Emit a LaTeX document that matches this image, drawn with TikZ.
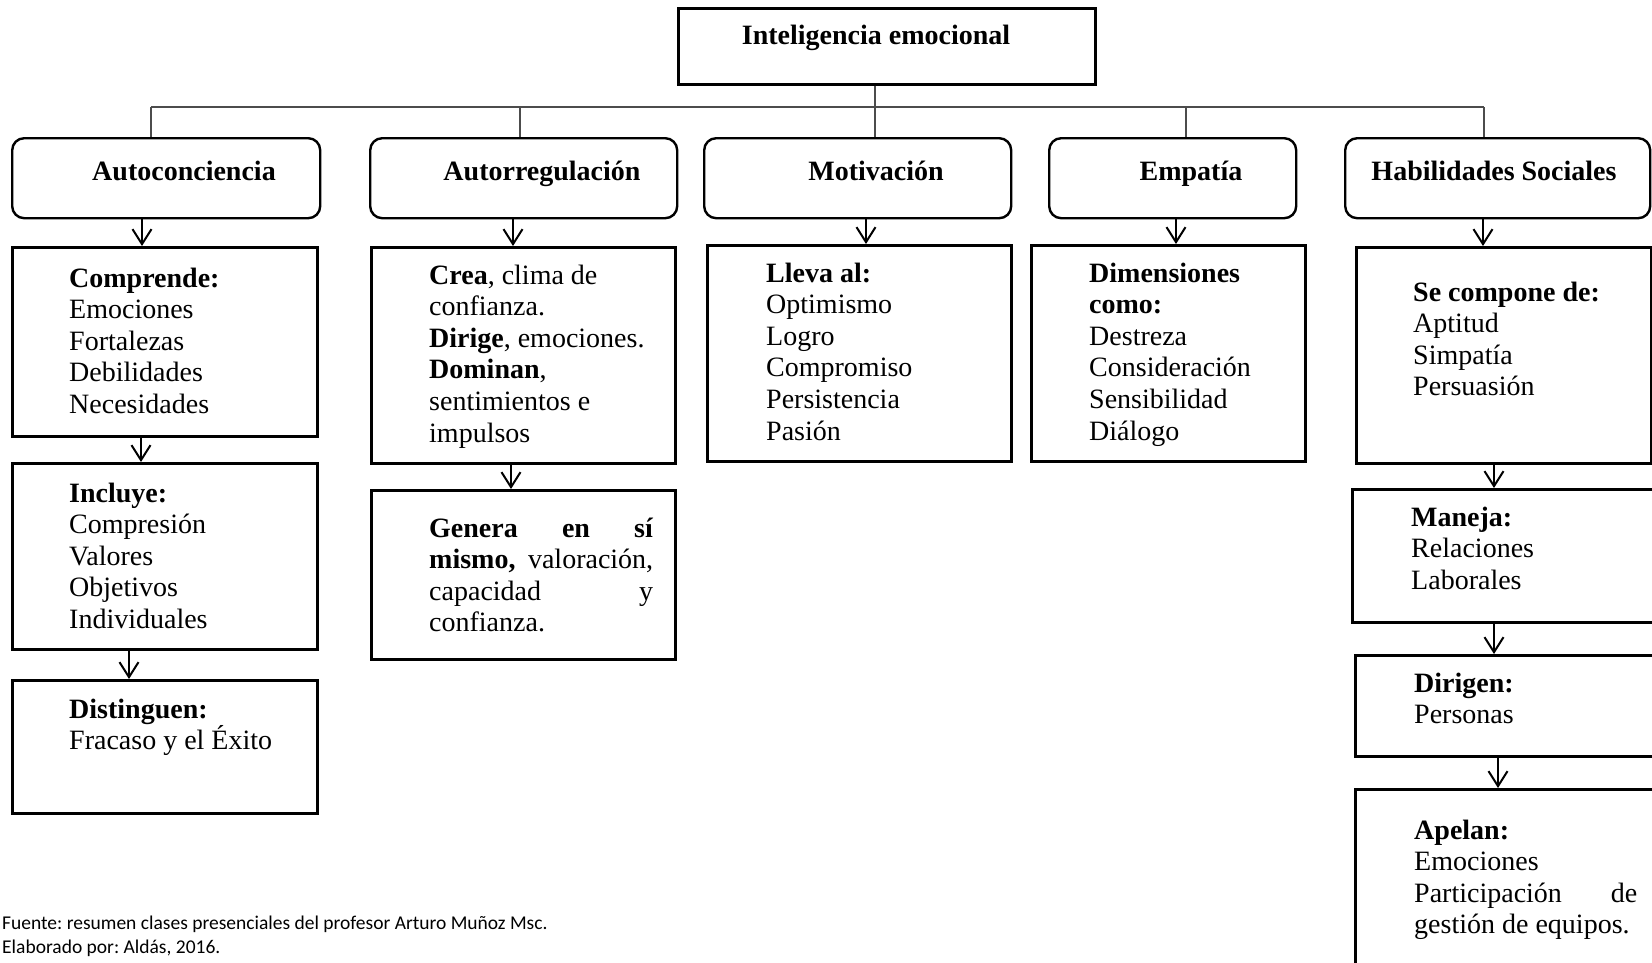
\documentclass[tikz,border=0pt]{standalone}
\usepackage{fontspec}
\setmainfont{Liberation Serif}
\newfontfamily\notefont{Carlito}
\usetikzlibrary{arrows.meta}
\frenchspacing
% restore the font's own interword glue inside fixed-width nodes
\newcommand\sprst{\spaceskip=0pt\xspaceskip=0pt\relax}
\begin{document}
\begin{tikzpicture}[x=1pt,y=-1pt,
  rbox/.style={draw, line width=2.4pt, rounded corners=12pt, inner sep=0pt, anchor=north west},
  sbox/.style={draw, line width=2.8pt, inner sep=0pt, anchor=north west},
  title/.style={font=\fontsize{28}{31.6}\selectfont\bfseries, inner sep=0pt, anchor=base},
  body/.style={font=\fontsize{28}{31.6}\selectfont, inner sep=0pt, anchor=base west},
  bus/.style={draw=black!70, line width=1.4pt},
  arr/.style={line width=2pt, -{Straight Barb[length=15pt,width=19pt,line width=2pt]}},
]
\fill[white] (0,0) rectangle (1652,962);
\clip (0,0) rectangle (1652,962);

% root
\node[sbox, line width=2.6pt, minimum width=417pt, minimum height=76pt] (root) at (677,7) {};
\node[title] (rootT) at (876,44) {Inteligencia emocional};

% five components
\node[rbox, minimum width=308pt, minimum height=80pt] (ac) at (11,137) {};
\node[rbox, minimum width=307pt, minimum height=80pt] (ar) at (369,137) {};
\node[rbox, minimum width=307pt, minimum height=80pt] (mo) at (703,137) {};
\node[rbox, minimum width=247pt, minimum height=80pt] (em) at (1048,137) {};
\node[rbox, minimum width=305pt, minimum height=80pt] (hs) at (1344,137) {};
\node[title] (acT) at (184,180) {Autoconciencia};
\node[title] (arT) at (542,180) {Autorregulación};
\node[title] (moT) at (876,180) {Motivación};
\node[title] (emT) at (1191,180) {Empatía};
\node[title] (hsT) at (1494,180) {Habilidades Sociales};

% tree connectors
\coordinate (j1) at (151,107);
\coordinate (j2) at (520,107);
\coordinate (j3) at (875,107);
\coordinate (j4) at (1186,107);
\coordinate (j5) at (1484,107);
\draw[bus] (j1) -- (j5);
\draw[bus] (root.south -| j3) -- (j3 |- mo.north);
\draw[bus] (j1) -- (j1 |- ac.north);
\draw[bus] (j2) -- (j2 |- ar.north);
\draw[bus] (j4) -- (j4 |- em.north);
\draw[bus] (j5) -- (j5 |- hs.north);

% detail boxes
\node[sbox, minimum width=305pt, minimum height=189pt] (a1) at (11,246) {};
\node[sbox, minimum width=305pt, minimum height=186pt] (a2) at (11,462) {};
\node[sbox, minimum width=305pt, minimum height=133pt] (a3) at (11,679) {};
\node[sbox, minimum width=304pt, minimum height=216pt] (b1) at (370,246) {};
\node[sbox, minimum width=304pt, minimum height=169pt] (b2) at (370,489) {};
\node[sbox, minimum width=304pt, minimum height=216pt] (c1) at (706,244) {};
\node[sbox, minimum width=274pt, minimum height=216pt] (d1) at (1030,244) {};
\node[sbox, minimum width=295pt, minimum height=216pt] (e1) at (1355,246) {};
\node[sbox, minimum width=330pt, minimum height=133pt] (e2) at (1351,488) {};
\node[sbox, minimum width=330pt, minimum height=101pt] (e3) at (1354,654) {};
\node[sbox, minimum width=330pt, minimum height=230pt] (e4) at (1354,788) {};

% texts of the detail boxes
\node[body, text width=240pt] (a1T) at (69,287)
  {\sprst\textbf{Comprende:}\\Emociones\\Fortalezas\\Debilidades\\Necesidades};
\node[body, text width=240pt] (a2T) at (69,502)
  {\sprst\textbf{Incluye:}\\Compresión\\Valores\\Objetivos\\Individuales};
\node[body, text width=240pt] (a3T) at (69,718)
  {\sprst\textbf{Distinguen:}\\Fracaso y el Éxito};
\node[body, text width=240pt] (b1T) at (429,284)
  {\sprst\textbf{Crea}, clima de\\confianza.\\\textbf{Dirige}, emociones.\\\textbf{Dominan},\\sentimientos e\\impulsos};
\node[body, text width=224pt] (b2T) at (429,537)
  {\sprst\makebox[224pt][s]{\textbf{Genera en sí}}\\
   \makebox[224pt][s]{\textbf{mismo,} valoración,}\\
   \makebox[224pt][s]{capacidad y}\\
   confianza.};
\node[body, text width=240pt] (c1T) at (766,282)
  {\sprst\textbf{Lleva al:}\\Optimismo\\Logro\\Compromiso\\Persistencia\\Pasión};
\node[body, text width=210pt] (d1T) at (1089,282)
  {\sprst\textbf{Dimensiones}\\\textbf{como:}\\Destreza\\Consideración\\Sensibilidad\\Diálogo};
\node[body, text width=230pt] (e1T) at (1413,301)
  {\sprst\textbf{Se compone de:}\\Aptitud\\Simpatía\\Persuasión};
\node[body, text width=230pt] (e2T) at (1411,526)
  {\sprst\textbf{Maneja:}\\Relaciones\\Laborales};
\node[body, text width=230pt] (e3T) at (1414,692)
  {\sprst\textbf{Dirigen:}\\Personas};
\node[body, text width=223pt] (e4T) at (1414,839)
  {\sprst\textbf{Apelan:}\\Emociones\\
   \makebox[223pt][s]{Participación de}\\
   gestión de equipos.};

% arrows
\coordinate (xa1) at (142,0);
\coordinate (xa2) at (141,0);
\coordinate (xa3) at (129,0);
\coordinate (xb1) at (513,0);
\coordinate (xb2) at (511,0);
\coordinate (xc1) at (866,0);
\coordinate (xd1) at (1176,0);
\coordinate (xe1) at (1483,0);
\coordinate (xe2) at (1494,0);
\coordinate (xe3) at (1494,0);
\coordinate (xe4) at (1498,0);
\draw[arr] (ac.south -| xa1) -- (a1.north -| xa1);
\draw[arr] (a1.south -| xa2) -- (a2.north -| xa2);
\draw[arr] (a2.south -| xa3) -- (a3.north -| xa3);
\draw[arr] (ar.south -| xb1) -- (b1.north -| xb1);
\draw[arr] (b1.south -| xb2) -- (b2.north -| xb2);
\draw[arr] (mo.south -| xc1) -- (c1.north -| xc1);
\draw[arr] (em.south -| xd1) -- (d1.north -| xd1);
\draw[arr] (hs.south -| xe1) -- (e1.north -| xe1);
\draw[arr] (e1.south -| xe2) -- (e2.north -| xe2);
\draw[arr] (e2.south -| xe3) -- (e3.north -| xe3);
\draw[arr] (e3.south -| xe4) -- (e4.north -| xe4);

% source note
\node[font=\notefont\fontsize{19.5}{24}\selectfont, inner sep=0pt, anchor=base west,
      text width=700pt] (src) at (2,929)
  {\sprst Fuente: resumen clases presenciales del profesor Arturo Muñoz Msc.\\Elaborado por: Aldás, 2016.};
\end{tikzpicture}
\end{document}
